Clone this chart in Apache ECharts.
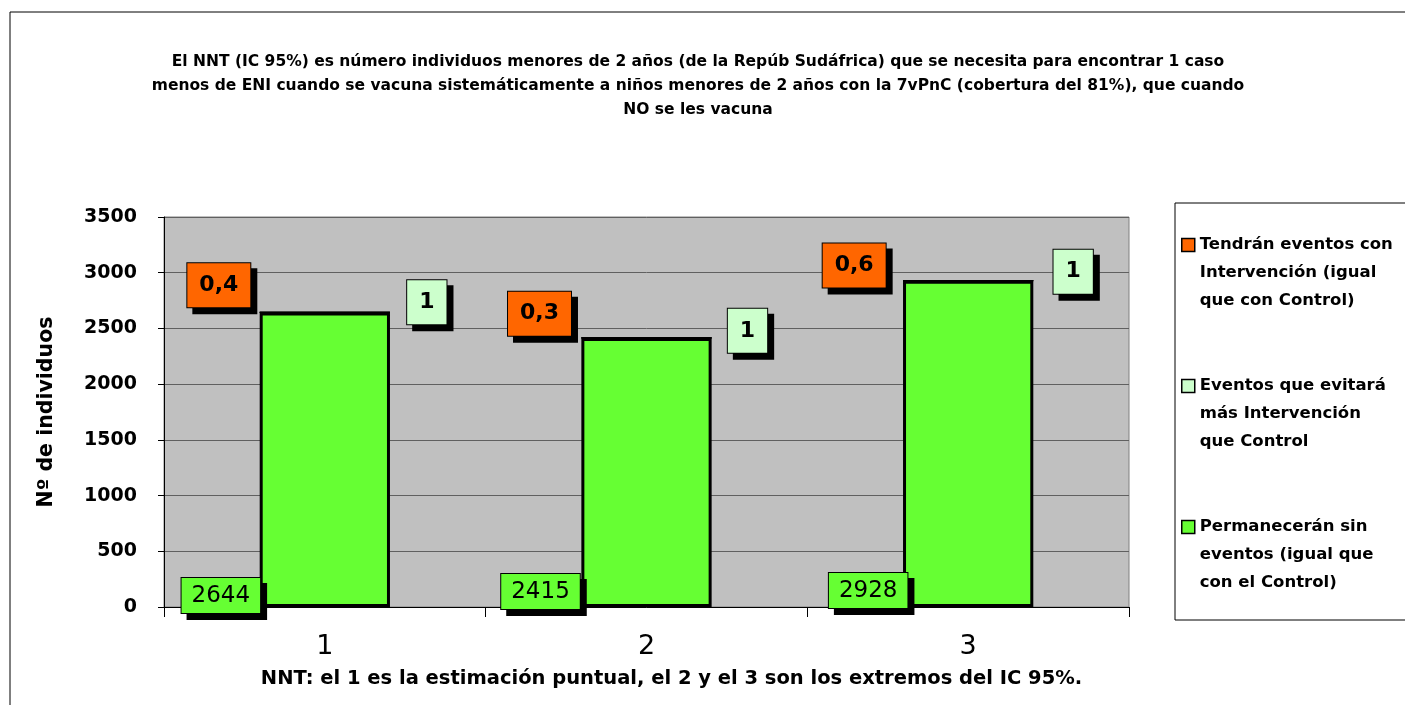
<!DOCTYPE html>
<html>
<head>
<meta charset="utf-8">
<script src="https://cdn.jsdelivr.net/npm/echarts@6/dist/echarts.min.js"></script>
<style>
html,body{margin:0;padding:0;background:#fff;}
#main{width:1405px;height:705px;}
</style>
</head>
<body>
<div id="main"></div>
<script>
var categories = ['1', '2', '3'];
var sinEventos = [2644, 2415, 2928];
var evitados = [1, 1, 1];
var conEventos = [0.4, 0.3, 0.6];
var yTicks = [0, 500, 1000, 1500, 2000, 2500, 3000, 3500];
var seriesNames = [
  'Tendrán eventos con\nIntervención (igual\nque con Control)',
  'Eventos que evitará\nmás Intervención\nque Control',
  'Permanecerán sin\neventos (igual que\ncon el Control)'
];
var titleText = 'El NNT (IC 95%) es número individuos menores de 2 años (de la Repúb Sudáfrica) que se necesita para encontrar 1 caso\nmenos de ENI cuando se vacuna sistemáticamente a niños menores de 2 años con la 7vPnC (cobertura del 81%), que cuando\nNO se les vacuna';
var yAxisName = 'Nº de individuos';
var xAxisName = 'NNT: el 1 es la estimación puntual, el 2 y el 3 son los extremos del IC 95%.';

// label offsets (layout only)
var greenOff = [[-104, 6], [-106, 2], [-100, 1]];
var lightOff = [[102, -10], [101, -7], [105, -9]];
var orangeOff = [[-106, -27], [-107, -24], [-114, -15]];

var FONT = 'DejaVu Sans';
function fmt(v) { return String(v).replace('.', ','); }
function withOffsets(vals, offs) {
  return vals.map(function (v, i) { return { value: v, label: { offset: offs[i] } }; });
}
var boxBase = {
  show: true, color: '#000', fontFamily: FONT, borderColor: '#000', borderWidth: 1,
  shadowColor: '#000', shadowOffsetX: 6, shadowOffsetY: 6, shadowBlur: 0,
  formatter: function (p) { return fmt(p.value); }
};

var chart = echarts.init(document.getElementById('main'));
chart.setOption({
  animation: false,
  backgroundColor: '#fff',
  title: {
    text: titleText, left: 693, top: 45, textAlign: 'center',
    textStyle: { fontFamily: FONT, fontWeight: 'bold', fontSize: 15.5, lineHeight: 24, color: '#000' }
  },
  graphic: [
    { type: 'rect', shape: { x: 10, y: 12, width: 1420, height: 720 }, style: { fill: 'none', stroke: '#000', lineWidth: 1 }, z: 100 },
    { type: 'rect', shape: { x: 1175, y: 203, width: 260, height: 417 }, style: { fill: '#fff', stroke: '#000', lineWidth: 1 }, z: 0 }
  ],
  legend: {
    orient: 'vertical', left: 1181, top: 175, padding: 0, itemGap: 1,
    itemWidth: 13, itemHeight: 13, icon: 'rect',
    data: [seriesNames[0], seriesNames[1], seriesNames[2]],
    formatter: function (n) { return '\n\n' + n; },
    itemStyle: { borderColor: '#000', borderWidth: 1.5 },
    textStyle: { fontFamily: FONT, fontWeight: 'bold', fontSize: 16.5, lineHeight: 28, color: '#000' }
  },
  grid: { left: 164, right: 276, top: 217, bottom: 98, show: true, backgroundColor: '#C0C0C0', borderColor: '#808080', borderWidth: 1 },
  xAxis: {
    type: 'category', data: categories,
    name: xAxisName, nameLocation: 'middle', nameGap: 62,
    nameTextStyle: { fontFamily: FONT, fontWeight: 'bold', fontSize: 19.5, color: '#000', padding: [0, 0, 0, 50] },
    axisLine: { lineStyle: { color: '#000', width: 1 } },
    axisTick: { show: true, length: 10, lineStyle: { color: '#000' } },
    axisLabel: { fontFamily: FONT, fontSize: 27, color: '#000', margin: 26 }
  },
  yAxis: {
    type: 'value', min: 0, max: 3500, interval: 500,
    name: yAxisName, nameLocation: 'middle', nameGap: 107, nameRotate: 90,
    nameTextStyle: { fontFamily: FONT, fontWeight: 'bold', fontSize: 20.5, color: '#000' },
    axisLine: { show: true, lineStyle: { color: '#000', width: 1 } },
    axisTick: { show: true, length: 6, lineStyle: { color: '#000' } },
    splitLine: { lineStyle: { color: '#606060', width: 1 } },
    axisLabel: {
      fontFamily: FONT, fontWeight: 'bold', fontSize: 19, color: '#000', margin: 27,
      formatter: function (v) { return yTicks.indexOf(v) >= 0 ? String(v) : ''; }
    }
  },
  series: [
    {
      name: seriesNames[2], type: 'bar', stack: 's', barWidth: '40.5%',
      itemStyle: { color: '#66FF33', borderColor: '#000', borderWidth: 3 },
      label: Object.assign({}, boxBase, { position: 'insideBottom', distance: 0, fontSize: 23, backgroundColor: '#66FF33', padding: [7, 10, 5, 10] }),
      data: withOffsets(sinEventos, greenOff), z: 2
    },
    {
      name: seriesNames[1], type: 'bar', stack: 's', barWidth: '40.5%',
      itemStyle: { color: '#CCFFCC', borderColor: '#000', borderWidth: 1 },
      label: Object.assign({}, boxBase, { position: 'inside', fontSize: 22, fontWeight: 'bold', backgroundColor: '#CCFFCC', padding: [11, 12, 11, 12] }),
      data: withOffsets(evitados, lightOff), z: 3
    },
    {
      name: seriesNames[0], type: 'bar', stack: 's', barWidth: '40.5%',
      itemStyle: { color: '#FF6600', borderColor: '#000', borderWidth: 1 },
      label: Object.assign({}, boxBase, { position: 'inside', fontSize: 22, fontWeight: 'bold', backgroundColor: '#FF6600', padding: [11, 12, 11, 12] }),
      data: withOffsets(conEventos, orangeOff), z: 3
    }
  ]
});
</script>
</body>
</html>
